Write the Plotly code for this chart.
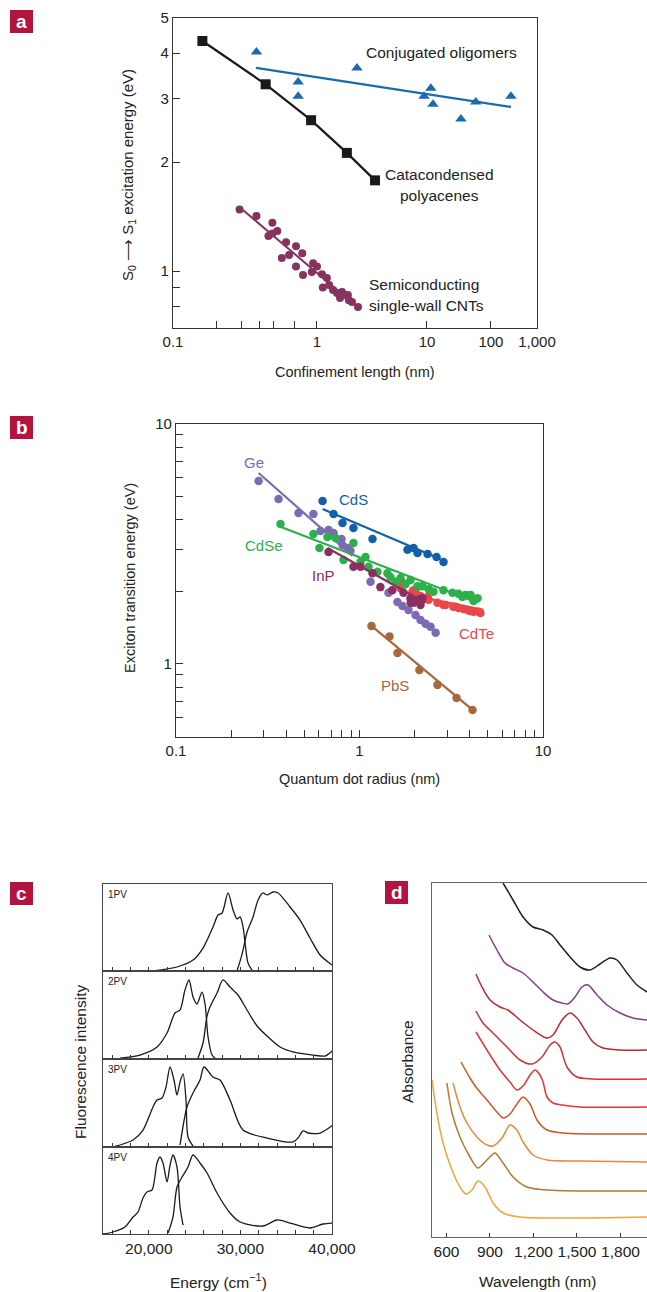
import numpy as np
import plotly.graph_objects as go

W, H = 647, 1292

def fx(x):
    return x / W

def fy(y):
    return 1 - y / H

TXT = "Liberation Sans, Arial, sans-serif"
REG = "Liberation Sans, Arial, sans-serif"
AX = "#333333"
CRIMSON = "#B3133F"

# ---------------- Panel a data ----------------
poly_L = [0.16, 0.44, 0.91, 1.87, 3.37]
poly_E = [4.32, 3.28, 2.61, 2.12, 1.78]
olig_L = [0.38, 0.74, 0.74, 2.31, 11.5, 9.4, 12.4, 34, 58, 272]
olig_E = [4.03, 3.33, 3.04, 3.64, 3.20, 3.04, 2.89, 2.63, 2.93, 3.04]
olig_fit_L = [0.377, 272]
olig_fit_E = [3.64, 2.84]
cnt_L = [0.29, 0.38, 0.49, 0.53, 0.49, 0.46, 0.61, 0.715, 0.57, 0.64, 0.79, 0.715, 0.80, 0.92,
         0.94, 1.0, 1.11, 1.23, 1.29, 1.40, 1.13, 1.52, 1.62, 1.80, 1.95, 2.08, 2.36, 1.69, 1.91]
cnt_E = [1.48, 1.42, 1.36, 1.29, 1.27, 1.25, 1.20, 1.17, 1.086, 1.107, 1.12, 1.03, 0.975, 0.994,
         1.05, 1.03, 0.98, 0.956, 0.915, 0.886, 0.90, 0.870, 0.842, 0.858, 0.831, 0.821, 0.796, 0.875, 0.858]
cnt_fit_L = [0.306, 2.21]
cnt_fit_E = [1.474, 0.805]

# confinement-length axis: piecewise-logarithmic scale of the original
conf_anchor_log = [-1, 0, 1, 2, 3]
conf_anchor_pos = [0, 1, 1.764, 2.208, 2.528]

def conf_pos(L):
    return np.interp(np.log10(np.asarray(L, float)), conf_anchor_log, conf_anchor_pos)

conf_ticks = [0.1, 0.2, 0.3, 0.4, 0.5, 0.7, 1, 10, 100, 1000]
conf_ticktext = ["0.1", "", "", "", "", "", "1", "10", "100", "1,000"]

# ---------------- Panel b data ----------------
ge_R = [0.282, 0.362, 0.465, 0.561, 0.613, 0.678, 0.722, 0.798, 0.808, 0.860, 0.893, 1.148, 1.439,
        1.61, 1.715, 1.849, 2.02, 2.15, 2.29, 2.44, 2.60]
ge_E = [5.79, 4.87, 4.26, 4.22, 3.58, 3.62, 3.51, 3.32, 3.13, 3.04, 2.96, 2.20, 1.98,
        1.81, 1.745, 1.68, 1.60, 1.525, 1.47, 1.43, 1.35]
ge_fit_R = [0.282, 0.916]
ge_fit_E = [6.25, 2.82]
cds_R = [0.629, 0.722, 0.808, 0.927, 1.177, 1.826, 1.97, 2.07, 2.35, 2.63, 2.87]
cds_E = [4.78, 4.22, 3.87, 3.69, 3.32, 2.99, 3.04, 2.90, 2.87, 2.79, 2.66]
cds_fit_R = [0.629, 2.76]
cds_fit_E = [4.42, 2.74]
cdse_R = [0.371, 0.561, 0.605, 0.669, 0.740, 0.818, 0.927, 1.078, 1.013, 1.12, 1.253, 1.42, 1.475,
          1.673, 1.896, 2.20, 2.53, 3.21, 3.78, 4.03, 4.40, 1.57, 1.78, 2.07, 2.38, 2.87, 3.46, 3.64, 4.18]
cdse_E = [3.83, 3.48, 3.04, 3.38, 3.35, 2.71, 3.19, 2.79, 2.66, 2.54, 2.42, 2.39, 2.30,
          2.28, 2.24, 2.11, 2.00, 1.98, 1.94, 1.94, 1.88, 2.20, 2.15, 2.11, 2.05, 2.03, 1.96, 1.90, 1.83]
cdse_fit_R = [0.362, 4.40]
cdse_fit_E = [3.76, 1.80]
inp_R = [0.678, 0.927, 1.013, 1.177, 1.30, 1.51, 1.737, 1.896, 1.97, 2.20, 2.15, 1.90, 2.07]
inp_E = [2.93, 2.54, 2.54, 2.39, 2.09, 2.03, 1.98, 1.88, 1.80, 1.88, 1.76, 1.80, 1.85]
inp_fit_R = [0.669, 2.29]
inp_fit_E = [3.04, 1.80]
cdte_R = [1.673, 1.715, 1.945, 1.97, 2.02, 2.15, 2.35, 2.38, 2.66, 2.87, 2.94, 3.25, 3.34, 3.46,
          3.69, 3.88, 4.03, 4.18, 4.45, 4.56]
cdte_E = [2.07, 2.18, 2.00, 2.03, 2.00, 1.92, 1.90, 1.85, 1.80, 1.76, 1.76, 1.73, 1.73, 1.71,
          1.695, 1.68, 1.66, 1.65, 1.65, 1.63]
cdte_fit_R = [2.15, 4.74]
cdte_fit_E = [1.90, 1.68]
pbs_R = [1.163, 1.457, 1.61, 2.12, 2.66, 3.38, 4.13]
pbs_E = [1.44, 1.30, 1.11, 0.944, 0.818, 0.722, 0.643]
pbs_fit_R = [1.163, 4.13]
pbs_fit_E = [1.44, 0.643]

# ---------------- Panel c data (normalised intensity) ----------------
pv1_em_x = [20460, 23080, 24830, 25920, 27010, 27560, 28000, 28650, 29200, 29630, 29960, 30290, 30510, 30830, 31270]
pv1_em_y = [0, 0.046, 0.126, 0.264, 0.506, 0.644, 0.667, 0.897, 0.701, 0.598, 0.621, 0.506, 0.322, 0.092, 0.011]
pv1_ab_x = [29630, 30180, 30730, 31380, 31930, 32470, 32910, 33560, 34110, 35420, 36510, 37600, 38700, 40010]
pv1_ab_y = [0, 0.195, 0.448, 0.621, 0.816, 0.897, 0.874, 0.908, 0.897, 0.736, 0.586, 0.379, 0.184, 0.069]
pv2_em_x = [16860, 19040, 20900, 21990, 22860, 23410, 23950, 24390, 24830, 25260, 25810, 26140, 26470, 26900, 27230]
pv2_em_y = [0.011, 0.045, 0.136, 0.295, 0.523, 0.557, 0.784, 0.898, 0.705, 0.625, 0.761, 0.625, 0.25, 0.045, 0.011]
pv2_ab_x = [25370, 25920, 26360, 26680, 27450, 28100, 28870, 29740, 30720, 31820, 32910, 34330, 35750, 37930, 39240, 40010]
pv2_ab_y = [0.011, 0.182, 0.489, 0.591, 0.75, 0.898, 0.818, 0.727, 0.557, 0.375, 0.261, 0.136, 0.08, 0.045, 0.034, 0.091]
pv3_em_x = [16090, 18280, 19370, 20460, 20900, 21440, 21880, 22320, 22750, 23080, 23410, 23740, 24060, 24280, 24830]
pv3_em_y = [0, 0.08, 0.193, 0.455, 0.534, 0.557, 0.682, 0.909, 0.761, 0.591, 0.739, 0.83, 0.534, 0.114, 0.011]
pv3_ab_x = [23410, 24170, 24830, 25590, 26030, 27010, 27780, 28870, 30290, 32910, 35750, 36290, 36840, 37390, 38700, 40120]
pv3_ab_y = [0.023, 0.455, 0.614, 0.761, 0.909, 0.795, 0.761, 0.534, 0.193, 0.102, 0.057, 0.102, 0.182, 0.159, 0.159, 0.25]
pv4_em_x = [15000, 16090, 17400, 18280, 18820, 19370, 19800, 20350, 20900, 21220, 21550, 21990, 22320, 22640, 23080, 23410, 23740]
pv4_em_y = [0, 0.023, 0.08, 0.195, 0.253, 0.414, 0.483, 0.506, 0.816, 0.885, 0.816, 0.598, 0.793, 0.908, 0.77, 0.31, 0.103]
pv4_ab_x = [22100, 22640, 23080, 23630, 24280, 24830, 25590, 26360, 27450, 28870, 29960, 32470, 34000, 35420, 37600, 39020, 40120]
pv4_ab_y = [0.011, 0.195, 0.54, 0.655, 0.77, 0.908, 0.816, 0.701, 0.471, 0.241, 0.138, 0.092, 0.161, 0.126, 0.069, 0.115, 0.126]
pv_names = ["1PV", "2PV", "3PV", "4PV"]
energy_ticks = list(range(16000, 40001, 2000))

# ---------------- Panel d data (absorbance, offset) ----------------
d_wl = [
    [990, 1059, 1128, 1197, 1266, 1328, 1383, 1452, 1521, 1590, 1659, 1728, 1776, 1845, 1914, 1983],
    [893, 948, 1003, 1059, 1128, 1197, 1266, 1335, 1397, 1438, 1486, 1534, 1576, 1638, 1707, 1797, 1886, 1983],
    [803, 845, 900, 969, 1024, 1107, 1197, 1293, 1335, 1397, 1452, 1500, 1555, 1610, 1679, 1797, 1983],
    [803, 852, 921, 1017, 1107, 1190, 1259, 1314, 1348, 1383, 1431, 1500, 1610, 1983],
    [803, 879, 969, 1038, 1086, 1134, 1176, 1210, 1245, 1266, 1293, 1335, 1397, 1521, 1983],
    [700, 762, 803, 879, 948, 990, 1038, 1086, 1128, 1176, 1224, 1293, 1403, 1983],
    [645, 693, 741, 810, 879, 921, 983, 1038, 1086, 1128, 1197, 1293, 1521, 1983],
    [603, 638, 693, 762, 817, 879, 934, 990, 1059, 1155, 1293, 1983],
    [500, 534, 576, 638, 693, 734, 776, 817, 866, 921, 990, 1107, 1983],
]
d_abs = [
    [3.54, 3.37, 3.20, 3.10, 3.07, 3.02, 2.92, 2.80, 2.70, 2.67, 2.73, 2.79, 2.77, 2.64, 2.52, 2.45],
    [3.02, 2.87, 2.74, 2.69, 2.64, 2.55, 2.45, 2.37, 2.34, 2.33, 2.40, 2.50, 2.52, 2.42, 2.32, 2.24, 2.19, 2.17],
    [2.63, 2.50, 2.37, 2.30, 2.27, 2.17, 2.07, 1.99, 2.02, 2.17, 2.24, 2.19, 2.07, 1.95, 1.89, 1.87, 1.87],
    [2.26, 2.14, 2.04, 1.90, 1.77, 1.73, 1.80, 1.92, 1.95, 1.90, 1.70, 1.60, 1.58, 1.58],
    [2.05, 1.87, 1.67, 1.55, 1.47, 1.52, 1.62, 1.67, 1.62, 1.55, 1.40, 1.34, 1.32, 1.30, 1.30],
    [1.75, 1.59, 1.50, 1.37, 1.25, 1.19, 1.23, 1.33, 1.40, 1.33, 1.17, 1.07, 1.04, 1.03],
    [1.54, 1.30, 1.14, 1.00, 0.92, 0.91, 0.99, 1.12, 1.07, 0.95, 0.82, 0.77, 0.76, 0.75],
    [1.54, 1.24, 1.00, 0.80, 0.69, 0.77, 0.84, 0.74, 0.60, 0.50, 0.47, 0.46],
    [1.57, 1.24, 0.94, 0.67, 0.50, 0.43, 0.47, 0.56, 0.50, 0.34, 0.24, 0.20, 0.20],
]
d_colors = ["#231F20", "#8E3A80", "#B82A30", "#D4302F", "#E8323A", "#C85A2A", "#E8883A", "#B8762E", "#F5A238"]
wl_ticks = [600, 900, 1200, 1500, 1800]
wl_text = ["600", "900", "1,200", "1,500", "1,800"]

fig = go.Figure()

# ---- Panel a traces
fig.add_trace(go.Scatter(x=conf_pos(olig_fit_L), y=olig_fit_E, mode="lines",
                         line=dict(color="#1A6AB2", width=2.2), xaxis="x", yaxis="y"))
fig.add_trace(go.Scatter(x=conf_pos(olig_L), y=olig_E, mode="markers",
                         marker=dict(symbol="triangle-up", size=10, color="#1A6AB2"), xaxis="x", yaxis="y"))
fig.add_trace(go.Scatter(x=conf_pos(poly_L), y=poly_E, mode="lines+markers",
                         line=dict(color="#1A1A1A", width=2.2),
                         marker=dict(symbol="square", size=10, color="#1A1A1A"), xaxis="x", yaxis="y"))
fig.add_trace(go.Scatter(x=conf_pos(cnt_fit_L), y=cnt_fit_E, mode="lines",
                         line=dict(color="#86345F", width=2), xaxis="x", yaxis="y"))
fig.add_trace(go.Scatter(x=conf_pos(cnt_L), y=cnt_E, mode="markers",
                         marker=dict(size=8, color="#86345F"), xaxis="x", yaxis="y"))

# ---- Panel b traces
series_b = [
    (ge_R, ge_E, ge_fit_R, ge_fit_E, "#7B6AB4"),
    (cdte_R, cdte_E, cdte_fit_R, cdte_fit_E, "#E84848"),
    (cdse_R, cdse_E, cdse_fit_R, cdse_fit_E, "#2DB04B"),
    (inp_R, inp_E, inp_fit_R, inp_fit_E, "#8B2F62"),
    (cds_R, cds_E, cds_fit_R, cds_fit_E, "#135FA8"),
    (pbs_R, pbs_E, pbs_fit_R, pbs_fit_E, "#A8683C"),
]
for r, e, fr, fe, c in series_b:
    fig.add_trace(go.Scatter(x=fr, y=fe, mode="lines", line=dict(color=c, width=2.2),
                             xaxis="x2", yaxis="y2"))
    fig.add_trace(go.Scatter(x=r, y=e, mode="markers", marker=dict(size=8.5, color=c),
                             xaxis="x2", yaxis="y2"))

# ---- Panel c traces
pc = [(pv1_em_x, pv1_em_y, pv1_ab_x, pv1_ab_y), (pv2_em_x, pv2_em_y, pv2_ab_x, pv2_ab_y),
      (pv3_em_x, pv3_em_y, pv3_ab_x, pv3_ab_y), (pv4_em_x, pv4_em_y, pv4_ab_x, pv4_ab_y)]
for i, (ex, ey, ax_, ay) in enumerate(pc):
    xa, ya = "x%d" % (i + 3), "y%d" % (i + 3)
    for xs, ys in ((ex, ey), (ax_, ay)):
        fig.add_trace(go.Scatter(x=xs, y=ys, mode="lines",
                                 line=dict(color="#1A1A1A", width=1.3, shape="spline", smoothing=0.8),
                                 xaxis=xa, yaxis=ya))

# ---- Panel d traces
for wl, ab, c in zip(d_wl, d_abs, d_colors):
    fig.add_trace(go.Scatter(x=wl, y=ab, mode="lines",
                             line=dict(color=c, width=1.5, shape="spline", smoothing=0.8),
                             xaxis="x7", yaxis="y7"))

tickfont = dict(family=REG, size=15, color="#222")
common = dict(showgrid=False, zeroline=False, showline=True, linecolor=AX, linewidth=1.2,
              ticks="inside", tickcolor=AX, tickfont=tickfont, automargin=False, tickangle=0)

layout = dict(
    width=W, height=H, margin=dict(l=0, r=0, t=0, b=0, autoexpand=False),
    paper_bgcolor="white", plot_bgcolor="white", showlegend=False,
    xaxis=dict(domain=[fx(173), fx(537)], anchor="y", range=[0, conf_anchor_pos[-1]],
               tickvals=conf_pos(conf_ticks), ticktext=conf_ticktext, ticklen=7, mirror=True, **common),
    yaxis=dict(domain=[fy(328), fy(18)], anchor="x", type="log",
               range=[np.log10(0.696), np.log10(5)], tickvals=[0.8, 0.9, 1, 2, 3, 4, 5],
               ticktext=["", "", "1", "2", "3", "4", "5"], ticklen=7, mirror=True, **common),
    xaxis2=dict(domain=[fx(176), fx(543)], anchor="y2", type="log", range=[-1, 1],
                tickvals=[0.1, 0.2, 0.3, 0.4, 0.5, 0.6, 0.7, 0.8, 0.9, 1, 2, 3, 4, 5, 6, 7, 8, 9, 10],
                ticktext=["0.1"] + [""] * 8 + ["1"] + [""] * 8 + ["10"], ticklen=7, mirror=True, **common),
    yaxis2=dict(domain=[fy(737), fy(424)], anchor="x2", type="log", range=[np.log10(0.496), 1],
                tickvals=[0.6, 0.7, 0.8, 0.9, 1, 2, 3, 4, 5, 6, 7, 8, 9, 10],
                ticktext=[""] * 4 + ["1"] + [""] * 8 + ["10"], ticklen=7, mirror=True, **common),
    xaxis7=dict(domain=[fx(432), 1.0], anchor="y7", range=[500, 1983], tickvals=wl_ticks, ticktext=wl_text,
                ticklen=4, mirror=True,
                **{**common, "linecolor": "#666", "tickfont": dict(family=REG, size=15.5, color="#222")}),
    yaxis7=dict(domain=[fy(1237), fy(883)], anchor="x7", range=[0, 3.54], showticklabels=False,
                showgrid=False, zeroline=False, showline=True, linecolor="#666", linewidth=1.2, ticks="",
                automargin=False),
)
c_bounds = [(884, 971), (971, 1059), (1059, 1147), (1147, 1234)]
for i, (top, bot) in enumerate(c_bounds):
    n = i + 3
    last = (i == 3)
    layout["xaxis%d" % n] = dict(domain=[fx(103), fx(332)], anchor="y%d" % n, range=[15000, 40000],
                                 tickvals=energy_ticks,
                                 ticktext=[("{:,}".format(v) if (last and v % 10000 == 0) else "") for v in energy_ticks],
                                 showticklabels=last, ticklen=4, mirror=True,
                                 **{**common, "linecolor": "#444",
                                    "tickfont": dict(family=REG, size=15.5, color="#222")})
    layout["yaxis%d" % n] = dict(domain=[fy(bot), fy(top)], anchor="x%d" % n, range=[0, 1.0],
                                 showticklabels=False, ticks="", showgrid=False, zeroline=False,
                                 showline=True, mirror=True, linecolor="#444", linewidth=1.2,
                                 automargin=False)

fig.update_layout(**layout)

# ---- annotations
ann = []

def add_text(x, y, text, size=15, color="#222", family=TXT, angle=0, xanchor="center"):
    ann.append(dict(x=fx(x), y=fy(y), xref="paper", yref="paper", text=text, showarrow=False,
                    font=dict(family=family, size=size, color=color), textangle=angle,
                    xanchor=xanchor, yanchor="middle"))

# panel a
add_text(128, 175, "S<sub>0</sub> \u27f6 S<sub>1</sub> excitation energy (eV)", size=15, angle=-90)
add_text(355, 372, "Confinement length (nm)", size=14.5)
add_text(442, 52, "Conjugated oligomers", size=15.5)
add_text(439, 174, "Catacondensed", size=15.5)
add_text(439, 196, "polyacenes", size=15.5)
add_text(367, 284, "Semiconducting", size=15.5, xanchor="left")
add_text(367, 306, "single-wall CNTs", size=15.5, xanchor="left")
# panel b
add_text(130, 578, "Exciton transition energy (eV)", size=14.5, angle=-90)
add_text(359, 779, "Quantum dot radius (nm)", size=14.5)
add_text(254, 462, "Ge", size=15, color="#7B6AB4")
add_text(353, 499, "CdS", size=15, color="#135FA8")
add_text(264, 545, "CdSe", size=15, color="#2DB04B")
add_text(323, 575, "InP", size=15, color="#8B2F62")
add_text(476, 633, "CdTe", size=15, color="#E84848")
add_text(395, 685, "PbS", size=15, color="#A8683C")
# panel c
add_text(80, 1062, "Fluorescence intensity", size=15.5, angle=-90)
add_text(218, 1281, "Energy (cm<sup>\u22121</sup>)", size=15.5)
for name, (top, bot) in zip(pv_names, c_bounds):
    add_text(106, top + 10, name, size=10, xanchor="left")
# panel d
add_text(407, 1062, "Absorbance", size=15.5, angle=-90)
add_text(537, 1281, "Wavelength (nm)", size=15.5)

# panel letters
shapes = []
for letter, (x0, y0) in zip("abcd", [(10, 10), (10, 416), (10, 882), (385, 881)]):
    shapes.append(dict(type="rect", xref="paper", yref="paper", x0=fx(x0), x1=fx(x0 + 23),
                       y0=fy(y0 + 23), y1=fy(y0), fillcolor=CRIMSON, line=dict(width=0)))
    ann.append(dict(x=fx(x0 + 11.5), y=fy(y0 + 11.5), xref="paper", yref="paper", text="<b>%s</b>" % letter,
                    showarrow=False, font=dict(family=REG, size=19, color="white"),
                    xanchor="center", yanchor="middle"))

fig.update_layout(annotations=ann, shapes=shapes)
fig.write_html("out.html", config={"displayModeBar": False},
               post_script="document.body.style.margin='0';document.body.style.overflow='hidden';")
